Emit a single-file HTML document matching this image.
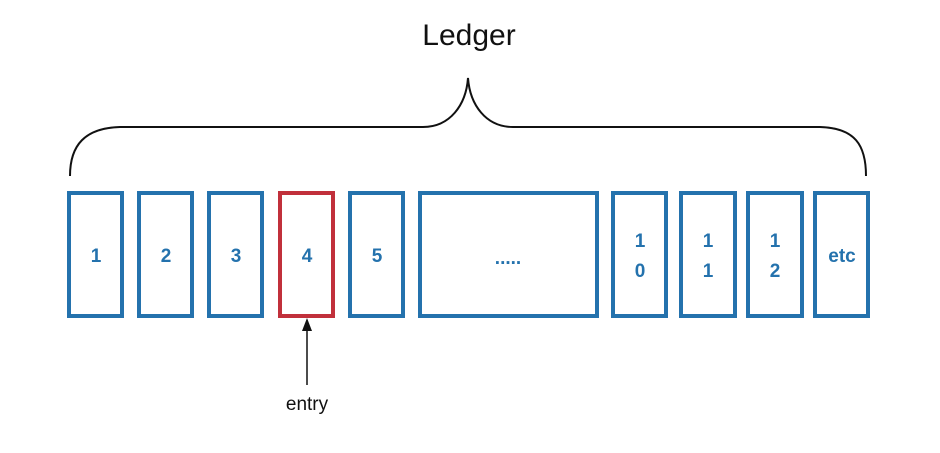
<!DOCTYPE html>
<html><head><meta charset="utf-8"><style>
html,body{margin:0;padding:0;background:#fff;}
</style></head><body>
<svg width="940" height="448" viewBox="0 0 940 448" xmlns="http://www.w3.org/2000/svg">
<rect width="940" height="448" fill="#fff"/>
<text x="469" y="45" text-anchor="middle" font-family="Liberation Sans, sans-serif" font-size="30" fill="#111">Ledger</text>
<path d="M70,176 C70,145 85,128 120,127 L423,127 C450,127 466,105 468,78 C470,105 486,127 513,127 L820,127 C855,128 866,145 866,176" fill="none" stroke="#111" stroke-width="2"/>
<g fill="none" stroke="#2472ad" stroke-width="4">
<rect x="69" y="193" width="53" height="123"/>
<rect x="139" y="193" width="53" height="123"/>
<rect x="209" y="193" width="53" height="123"/>
<rect x="350" y="193" width="53" height="123"/>
<rect x="420" y="193" width="177" height="123"/>
<rect x="613" y="193" width="53" height="123"/>
<rect x="681" y="193" width="54" height="123"/>
<rect x="748" y="193" width="54" height="123"/>
<rect x="815" y="193" width="53" height="123"/>
</g>
<rect x="280" y="193" width="53" height="123" fill="none" stroke="#c1303b" stroke-width="4"/>
<g font-family="Liberation Sans, sans-serif" font-weight="bold" font-size="19" fill="#2472ad" text-anchor="middle">
<text x="96" y="262">1</text>
<text x="166" y="262">2</text>
<text x="236" y="262">3</text>
<text x="307" y="262">4</text>
<text x="377" y="262">5</text>
<text x="508" y="264">.....</text>
<text x="640" y="247">1</text><text x="640" y="277">0</text>
<text x="708" y="247">1</text><text x="708" y="277">1</text>
<text x="775" y="247">1</text><text x="775" y="277">2</text>
<text x="842" y="262">etc</text>
</g>
<line x1="307" y1="385" x2="307" y2="330" stroke="#111" stroke-width="1.5"/>
<polygon points="307,318 302,331 312,331" fill="#111"/>
<text x="307" y="410" text-anchor="middle" font-family="Liberation Sans, sans-serif" font-size="19" fill="#111">entry</text>
</svg>
</body></html>
